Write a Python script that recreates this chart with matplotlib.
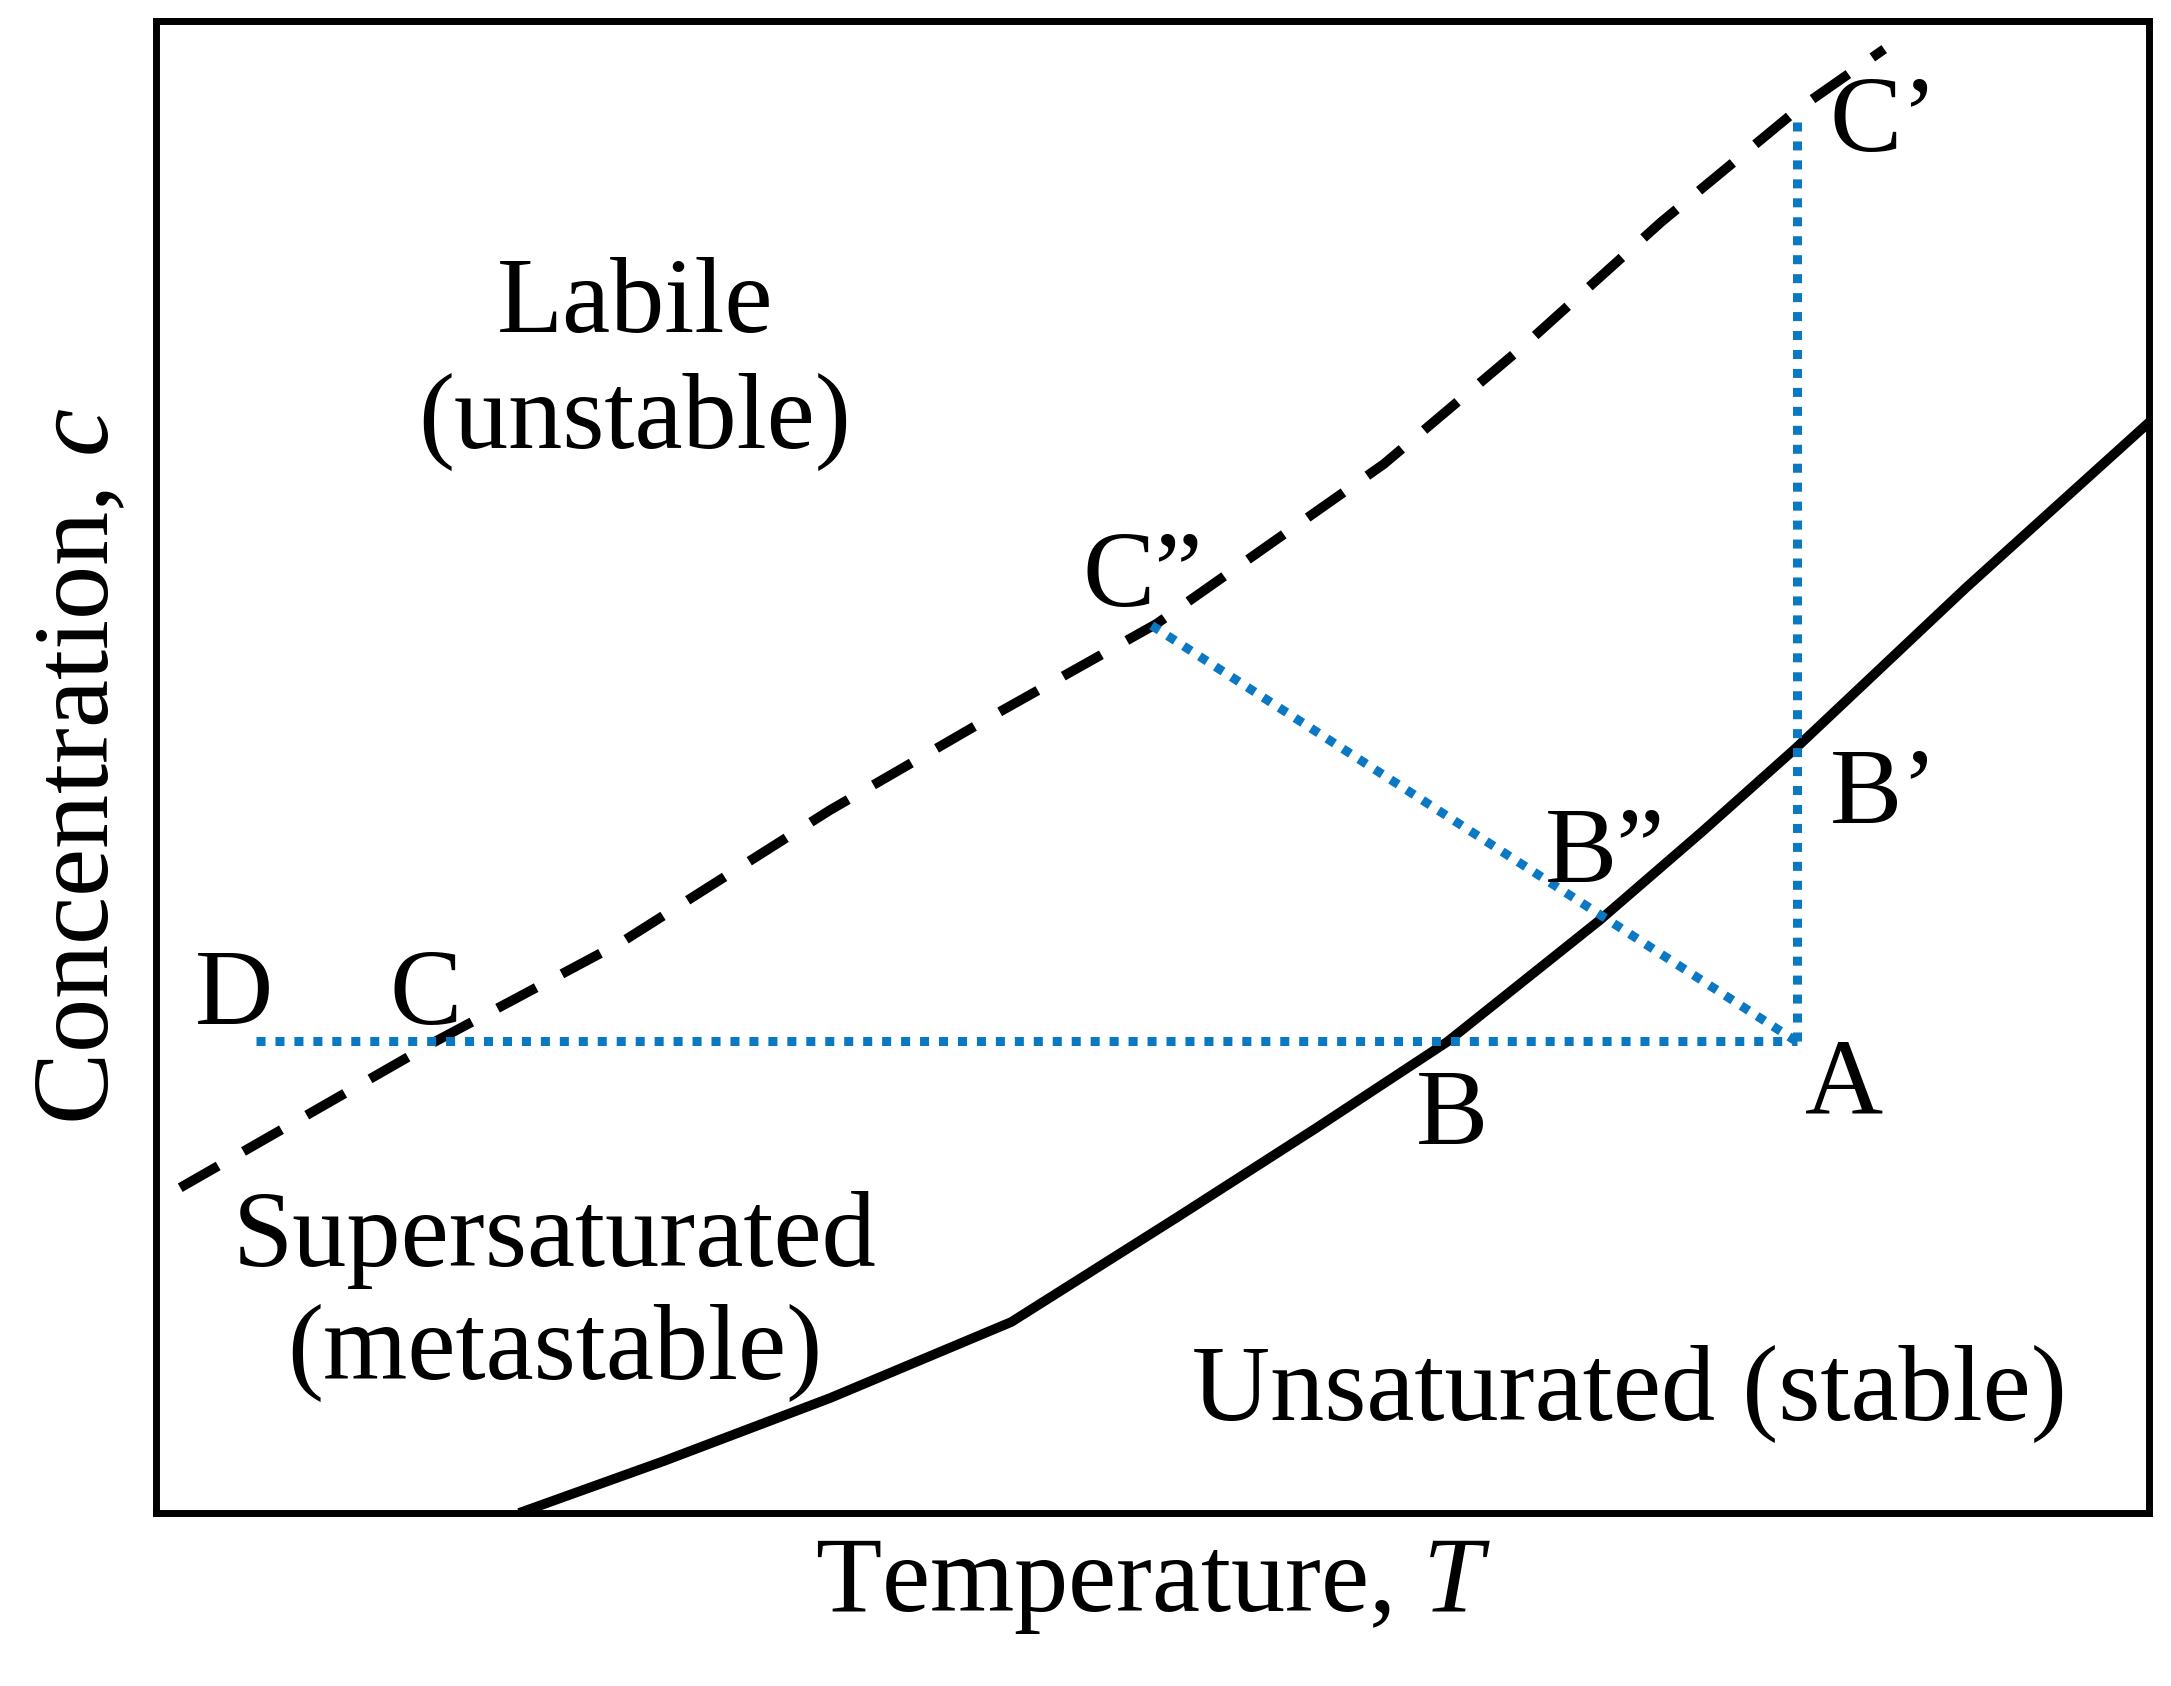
import matplotlib
matplotlib.use("Agg")
import matplotlib.pyplot as plt

# Solubility (solid) curve
sol_x = [18.2, 25.5, 33.8, 42.9, 51.2, 58.2, 64.8, 72.4, 77.6, 82.3, 90.8, 100.0]
sol_y = [0.0, 3.5, 7.7, 12.8, 19.8, 25.8, 31.6, 39.7, 45.7, 51.3, 62.0, 73.1]
# Supersolubility (dashed) curve
sup_x = [1.2, 14.0, 23.4, 33.8, 42.2, 50.2, 61.6, 68.6, 75.5, 82.3, 86.7]
sup_y = [21.8, 31.6, 38.3, 47.1, 53.6, 59.6, 70.3, 78.2, 86.5, 94.0, 98.1]
# Dotted paths
path1_x = [5.0, 82.3]; path1_y = [31.6, 31.6]
path2_x = [82.3, 82.3]; path2_y = [31.6, 93.5]
path3_x = [82.3, 49.8]; path3_y = [31.6, 59.6]

labels = {
    "D": (3.9, 34.5), "C": (13.5, 34.5), "B": (65.0, 26.5), "A": (84.7, 28.5),
    "B'": (86.7, 48.0), "B''": (72.7, 44.0), "C''": (49.5, 62.5), "C'": (86.7, 93.0),
}

plt.rcParams['font.family'] = ['Liberation Serif', 'DejaVu Serif']
plt.rcParams['mathtext.fontset'] = 'custom'
plt.rcParams['mathtext.it'] = 'Liberation Serif:italic'
plt.rcParams['mathtext.rm'] = 'Liberation Serif'
fig = plt.figure(figsize=(21.71, 16.86), dpi=100)
ax = fig.add_axes([0.072, 0.1026, 0.918, 0.8851])
ax.set_xlim(0, 100); ax.set_ylim(0, 100)
ax.set_xticks([]); ax.set_yticks([])
for s in ax.spines.values():
    s.set_linewidth(5)

ax.plot(sol_x, sol_y, color='black', lw=7, solid_capstyle='butt', solid_joinstyle='round')
ax.plot(sup_x, sup_y, color='black', lw=7, dashes=(4.5, 3))
blue = '#0A78C2'
for px, py in [(path1_x, path1_y), (path2_x, path2_y), (path3_x, path3_y)]:
    ax.plot(px, py, color=blue, lw=6.5, linestyle=(0, (1, 1.1)))

fs = 78
for t, (x, y) in labels.items():
    t2 = t.replace("''", "\u201d").replace("'", "\u2019")
    ax.text(x, y, t2, fontsize=fs, ha='center', va='center')

ax.text(24.0, 77.0, "Labile\n(unstable)", fontsize=fs, ha='center', va='center', linespacing=1.25)
ax.text(20.0, 14.5, "Supersaturated\n(metastable)", fontsize=fs, ha='center', va='center', linespacing=1.2)
ax.text(73.9, 8.0, "Unsaturated (stable)", fontsize=fs, ha='center', va='center')
ax.set_xlabel("Temperature, $\\mathit{T}$", fontsize=fs, labelpad=18)
ax.set_ylabel("Concentration, $\\mathit{c}$", fontsize=fs, labelpad=18)
fig.savefig("out.png", dpi=100)
